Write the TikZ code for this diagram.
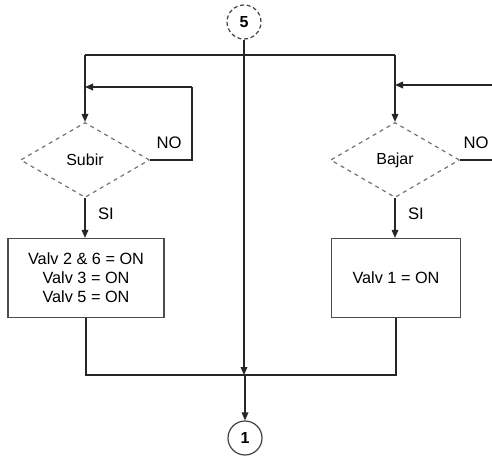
\documentclass[tikz,border=0pt]{standalone}
\usepackage{fontspec}
\setmainfont{Liberation Sans}
\usetikzlibrary{shapes.geometric,arrows.meta}
\begin{document}
\begin{tikzpicture}[x=0.75pt,y=-0.75pt,
  line/.style={draw=black!85, line width=0.9pt},
  arr/.style={line, -{Triangle[length=6pt,width=5pt]}},
  decision/.style={diamond, draw=black!55, dashed, line width=0.9pt,
    minimum width=96.75pt, minimum height=56.25pt, inner sep=0pt, font=\fontsize{12}{14}\selectfont},
  process/.style={rectangle, draw=black!70, line width=0.9pt, align=center,
    minimum height=59.25pt, inner sep=0pt, font=\fontsize{12.2}{14.2}\selectfont},
  connector/.style={circle, draw=black!75, line width=0.9pt, minimum size=25.5pt, inner sep=0pt,
    font=\bfseries\fontsize{12}{14}\selectfont},
  lbl/.style={font=\fontsize{12.5}{14}\selectfont}]
\useasboundingbox (0,0) rectangle (492,457);

\node[connector, densely dashed] (c5) at (244,22) {5};
\node[decision] (subir) at (85,160) {Subir};
\node[decision] (bajar) at (395,160) {Bajar};
\node[process, minimum width=117pt] (boxL) at (86,278) {Valv 2 \& 6 = ON\\Valv 3 = ON\\Valv 5 = ON};
\node[process, minimum width=96.75pt] (boxR) at (396,278) {Valv 1 = ON};
\node[connector] (c1) at (245,438) {1};

\coordinate (j) at (245,375);
\coordinate (topL) at (85,55);
\coordinate (topR) at (395,55);
\coordinate (loopLa) at (192,160);
\coordinate (loopLb) at (192,87);
\coordinate (loopLc) at (85,87);
\coordinate (exitR) at (492,160);
\coordinate (entryR) at (492,85);
\coordinate (entryRc) at (395,85);

% main vertical from 5 to junction
\draw[arr] (c5.south) -- (c5.south |- j);
\draw[arr] (j) -- (c1.north);

% top distribution line
\draw[line] (topL) -- (topR);
\draw[arr] (topL) -- (subir.north);
\draw[arr] (topR) -- (bajar.north);

% NO loops
\draw[line] (subir.east) -- (loopLa) -- (loopLb);
\draw[arr] (loopLb) -- (loopLc);
\draw[line] (bajar.east) -- (exitR);
\draw[arr] (entryR) -- (entryRc);

\node[lbl] at (169,143) {NO};
\node[lbl] at (476,143) {NO};

% SI branches
\draw[arr] (subir.south) -- (boxL.north -| subir.south);
\draw[arr] (bajar.south) -- (boxR.north -| bajar.south);
\node[lbl] at (106,214) {SI};
\node[lbl] at (416,214) {SI};

% merge
\draw[line] (boxL.south) -- (boxL.south |- j) -- (boxR.south |- j) -- (boxR.south);
\end{tikzpicture}
\end{document}
